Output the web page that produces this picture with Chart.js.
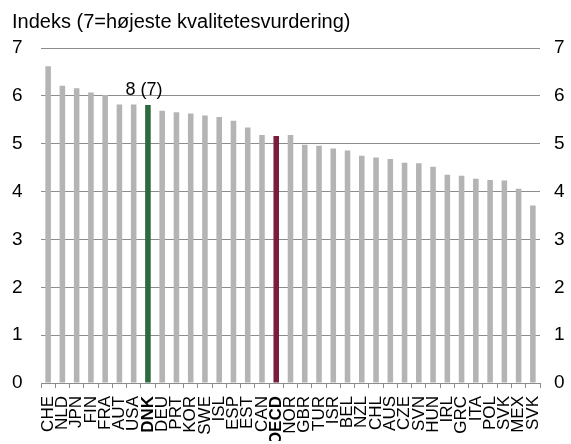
<!DOCTYPE html>
<html>
<head>
<meta charset="utf-8">
<script src="https://cdn.jsdelivr.net/npm/chart.js@4.4.0/dist/chart.umd.min.js"></script>
<style>
  html, body { margin: 0; padding: 0; background: #fff; }
  #wrap { width: 571px; height: 444px; }
</style>
</head>
<body>
<div id="wrap"><canvas id="graf"></canvas></div>
<script>
// Lande og indeksværdier
const lande = ["CHE", "NLD", "JPN", "FIN", "FRA", "AUT", "USA", "DNK", "DEU", "PRT",
  "KOR", "SWE", "ISL", "ESP", "EST", "CAN", "OECD", "NOR", "GBR", "TUR",
  "ISR", "BEL", "NZL", "CHL", "AUS", "CZE", "SVN", "HUN", "IRL", "GRC",
  "ITA", "POL", "SVK", "MEX", "SVK"];
const vaerdier = [6.62, 6.21, 6.16, 6.07, 6.02, 5.82, 5.82, 5.81, 5.69, 5.66,
  5.63, 5.59, 5.56, 5.48, 5.34, 5.18, 5.16, 5.18, 4.98, 4.96,
  4.90, 4.86, 4.75, 4.71, 4.68, 4.60, 4.59, 4.52, 4.35, 4.33,
  4.27, 4.24, 4.23, 4.06, 3.71];
const yTicks = [0, 1, 2, 3, 4, 5, 6, 7];
const markering = "8 (7)"; // placering af DNK

const idxDNK = 7;
const idxOECD = 16;
const skrift = "'Liberation Sans', Arial, sans-serif";

const farver = lande.map((l, i) => {
  if (i === idxDNK) return "#2b6a3d";
  if (i === idxOECD) return "#7a1c3c";
  return "#b4b4b4";
});

// skriver "8 (7)" over DNK-søjlen
const etiketPlugin = {
  id: "etiket",
  afterDatasetsDraw(chart) {
    const bar = chart.getDatasetMeta(0).data[idxDNK];
    const ctx = chart.ctx;
    ctx.save();
    ctx.font = "18px " + skrift;
    ctx.fillStyle = "#000";
    ctx.textAlign = "center";
    ctx.textBaseline = "alphabetic";
    ctx.fillText(markering, bar.x - 4, bar.y - 10);
    ctx.restore();
  }
};

const yAkse = (pos) => ({
  position: pos,
  min: 0,
  max: 7,
  afterBuildTicks: (s) => { s.ticks = yTicks.map(v => ({ value: v })); },
  afterFit: (s) => { s.width = pos === "left" ? 29 : 31; },
  border: { display: false },
  grid: {
    display: pos === "left",
    drawTicks: false,
    color: (c) => c.tick.value === 0 ? "rgba(0,0,0,0)" : "#8c8c8c",
    lineWidth: 1
  },
  ticks: {
    color: "#000",
    font: { family: skrift, size: 19 },
    padding: pos === "left" ? 8 : 14,
    crossAlign: pos === "left" ? "far" : "near"
  }
});

const config = {
  type: "bar",
  data: {
    labels: lande,
    datasets: [{
      data: vaerdier,
      backgroundColor: farver,
      barPercentage: 0.39,
      categoryPercentage: 1
    }]
  },
  options: {
    responsive: true,
    maintainAspectRatio: false,
    animation: false,
    layout: { padding: { left: 12, right: 0, top: 0, bottom: 3 } },
    plugins: {
      legend: { display: false },
      tooltip: { enabled: false },
      title: {
        display: true,
        text: "Indeks (7=højeste kvalitetesvurdering)",
        align: "start",
        color: "#000",
        font: { family: skrift, size: 20, weight: "normal" },
        padding: { top: 10, bottom: 14 }
      }
    },
    scales: {
      x: {
        afterFit: (s) => { s.height = 58; },
        border: { display: true, color: "#8c8c8c" },
        grid: { drawOnChartArea: false, drawTicks: true, tickLength: 5, color: "#8c8c8c", offset: true },
        ticks: {
          autoSkip: false,
          minRotation: 90,
          maxRotation: 90,
          padding: 8,
          color: "#000",
          font: (c) => ({
            family: skrift,
            size: 17,
            weight: (c.index === idxDNK || c.index === idxOECD) ? "bold" : "normal"
          })
        }
      },
      y: yAkse("left"),
      y2: yAkse("right")
    }
  },
  plugins: [etiketPlugin]
};

new Chart(document.getElementById("graf"), config);
</script>
</body>
</html>
